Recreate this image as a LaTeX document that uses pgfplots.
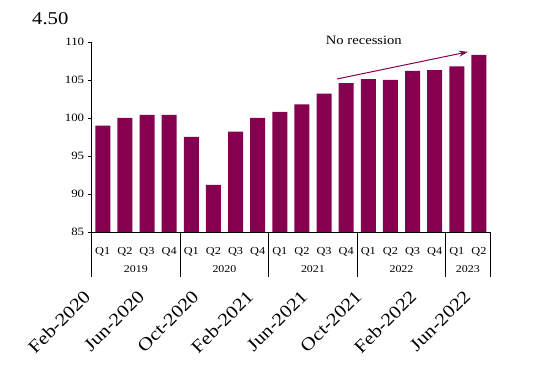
\documentclass[border=0pt]{standalone}
\usepackage{fontspec}
\setmainfont[FakeStretch=1.15]{Liberation Serif}
\usepackage{pgfplots}
\pgfplotsset{compat=1.18}
\usetikzlibrary{arrows.meta}
\definecolor{barc}{RGB}{134,0,80}
\begin{document}
\begin{tikzpicture}
\path[use as bounding box] (-91.7pt,-142pt) rectangle (447.3pt,232pt);
\begin{axis}[
  at={(0,0)}, anchor=south west,
  scale only axis, width=398.3pt, height=190pt,
  ybar, bar width=15pt,
  xmin=-0.5, xmax=17.5, ymin=85, ymax=110,
  enlarge x limits=false,
  axis x line=bottom, axis y line=left,
  axis line style={-, black, line width=0.8pt},
  ytick={85,90,...,110},
  /pgf/number format/assume math mode=true,
  y tick label style={font=\fontsize{11.2}{12}\selectfont},
  xtick={0,...,17},
  xticklabels={Q1,Q2,Q3,Q4,Q1,Q2,Q3,Q4,Q1,Q2,Q3,Q4,Q1,Q2,Q3,Q4,Q1,Q2},
  x tick label style={font=\fontsize{10.7}{12}\selectfont, anchor=center, yshift=-16pt},
  xtick style={draw=none},
  ytick style={black, line width=0.8pt},
  tick align=outside, major tick length=4pt,
  clip=false,
]
\addplot[fill=barc, draw=none] coordinates {
(0,99.0) (1,100.0) (2,100.4) (3,100.4)
(4,97.5) (5,91.2) (6,98.2) (7,100.0)
(8,100.8) (9,101.8) (10,103.2) (11,104.6)
(12,105.1) (13,105.0) (14,106.2) (15,106.3)
(16,106.8) (17,108.3)};
\pgfplotsinvokeforeach{-0.5,3.5,7.5,11.5,15.5,17.5}{
  \draw[black, line width=0.8pt] (axis cs:#1,85) -- ([yshift=-45pt]axis cs:#1,85);
}
\node[font=\fontsize{10.4}{12}\selectfont] at ([yshift=-37pt]axis cs:1.5,85) {2019};
\node[font=\fontsize{10.4}{12}\selectfont] at ([yshift=-37pt]axis cs:5.5,85) {2020};
\node[font=\fontsize{10.4}{12}\selectfont] at ([yshift=-37pt]axis cs:9.5,85) {2021};
\node[font=\fontsize{10.4}{12}\selectfont] at ([yshift=-37pt]axis cs:13.5,85) {2022};
\node[font=\fontsize{10.4}{12}\selectfont] at ([yshift=-37pt]axis cs:16.5,85) {2023};
\node[font=\fontsize{18}{20}\selectfont, anchor=west, inner sep=0pt] at ([xshift=-59.7pt, yshift=23pt]axis cs:-0.5,110) {4.50};
\node[font=\fontsize{12.7}{14}\selectfont] at ([yshift=2pt]axis cs:11.8,110) {No recession};
\draw[-{Stealth[length=9pt,width=6pt]}, barc, line width=1pt] (axis cs:10.58,105.13) -- (axis cs:16.5,108.7);
\node[rotate=45, anchor=north east, inner sep=0pt, font=\fontsize{18}{20}\selectfont] at ([xshift=-9pt,yshift=-57pt]axis cs:-0.5,85) {Feb-2020};
\node[rotate=45, anchor=north east, inner sep=0pt, font=\fontsize{18}{20}\selectfont] at ([xshift=-9pt,yshift=-57pt]axis cs:1.955,85) {Jun-2020};
\node[rotate=45, anchor=north east, inner sep=0pt, font=\fontsize{18}{20}\selectfont] at ([xshift=-9pt,yshift=-57pt]axis cs:4.41,85) {Oct-2020};
\node[rotate=45, anchor=north east, inner sep=0pt, font=\fontsize{18}{20}\selectfont] at ([xshift=-9pt,yshift=-57pt]axis cs:6.865,85) {Feb-2021};
\node[rotate=45, anchor=north east, inner sep=0pt, font=\fontsize{18}{20}\selectfont] at ([xshift=-9pt,yshift=-57pt]axis cs:9.32,85) {Jun-2021};
\node[rotate=45, anchor=north east, inner sep=0pt, font=\fontsize{18}{20}\selectfont] at ([xshift=-9pt,yshift=-57pt]axis cs:11.775,85) {Oct-2021};
\node[rotate=45, anchor=north east, inner sep=0pt, font=\fontsize{18}{20}\selectfont] at ([xshift=-9pt,yshift=-57pt]axis cs:14.23,85) {Feb-2022};
\node[rotate=45, anchor=north east, inner sep=0pt, font=\fontsize{18}{20}\selectfont] at ([xshift=-9pt,yshift=-57pt]axis cs:16.685,85) {Jun-2022};
\end{axis}
\end{tikzpicture}
\end{document}
